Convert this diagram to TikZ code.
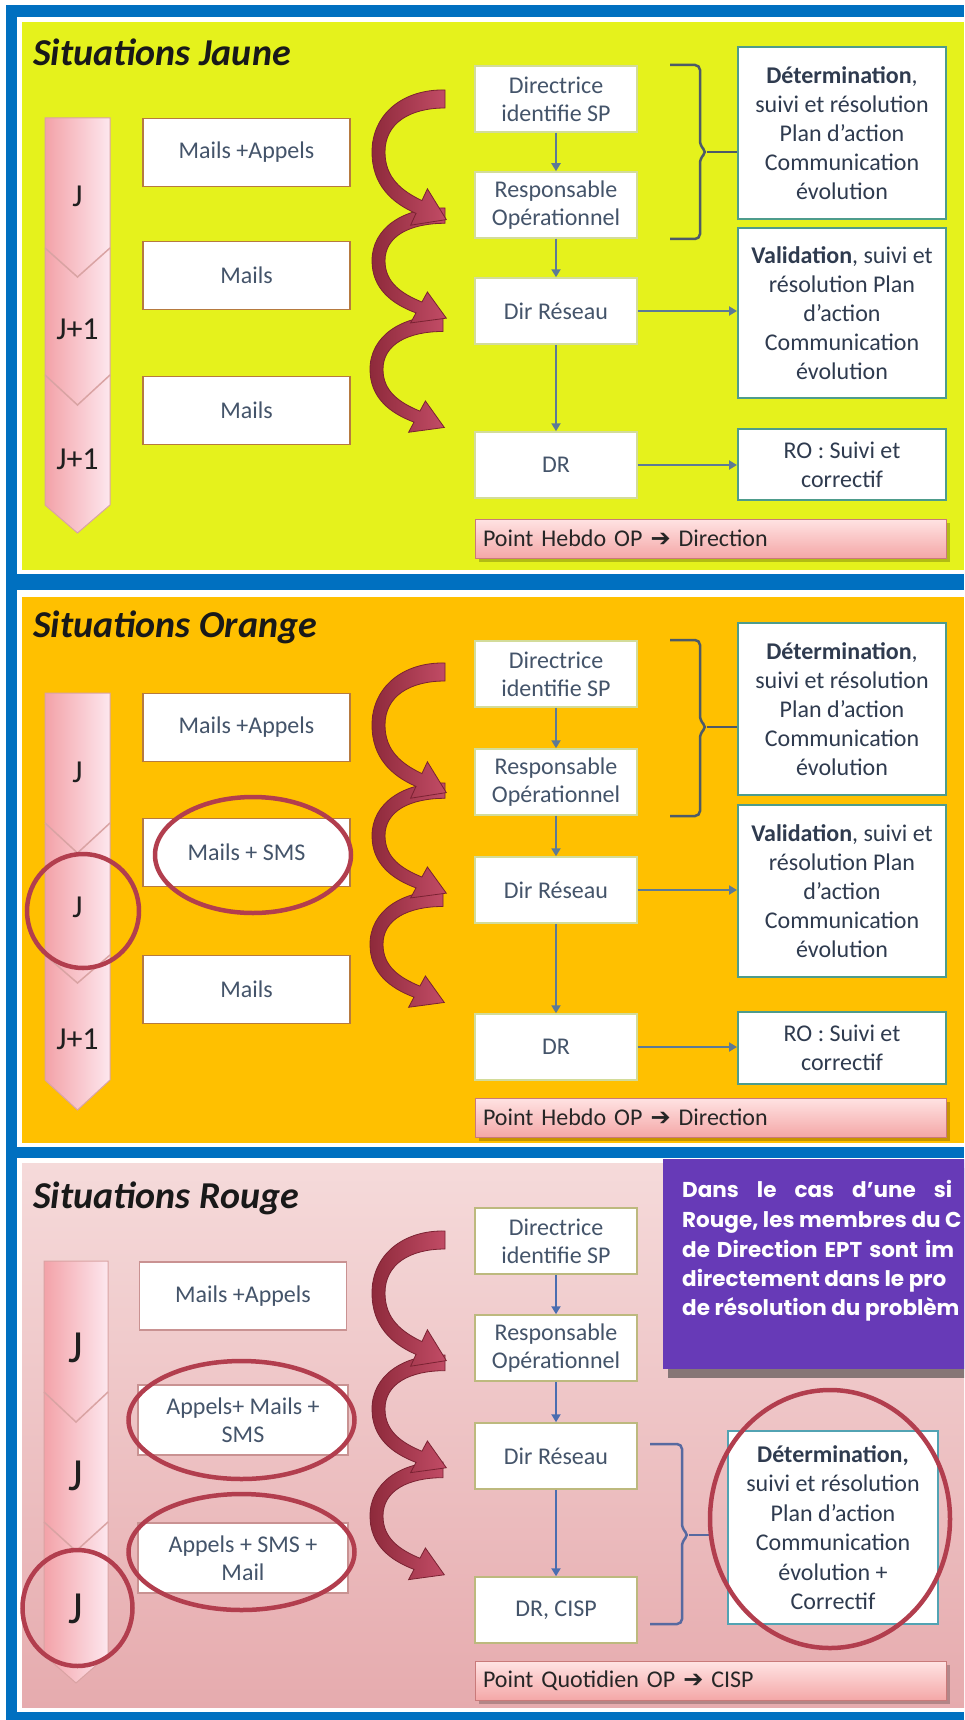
\documentclass[tikz,border=0pt]{standalone}
\usepackage{fontspec}
\setmainfont{Carlito}
\newfontfamily\dvs{DejaVu Sans}
\newfontfamily\gothic{Poppins}
\usetikzlibrary{arrows.meta,shapes.geometric}
\definecolor{frameblue}{HTML}{0070C0}
\definecolor{pyellow}{HTML}{E5F21C}
\definecolor{porange}{HTML}{FFC000}
\definecolor{pinkA}{HTML}{F5DADA}
\definecolor{pinkB}{HTML}{E6ABAE}
\definecolor{chevA}{HTML}{F3A2A8}
\definecolor{chevB}{HTML}{FDE7EE}
\definecolor{chevD}{HTML}{D9A3A3}
\definecolor{lboxc}{HTML}{B67A40}
\definecolor{lboxr}{HTML}{C99292}
\definecolor{cboxc}{HTML}{D3DC9A}
\definecolor{cboxr}{HTML}{BDB97E}
\definecolor{rboxc}{HTML}{4E9C8C}
\definecolor{rboxr}{HTML}{52A3B3}
\definecolor{slate}{HTML}{44546A}
\definecolor{darkslate}{HTML}{2F3B4F}
\definecolor{connc}{HTML}{5C7A96}
\definecolor{connr}{HTML}{4A6DB0}
\definecolor{brkc}{HTML}{4D5A68}
\definecolor{brkr}{HTML}{5769A0}
\definecolor{barA}{HTML}{FFE3E3}
\definecolor{barB}{HTML}{F4A7A7}
\definecolor{barD}{HTML}{C97A7A}
\definecolor{arrA}{HTML}{8E2A3B}
\definecolor{arrB}{HTML}{C24C66}
\definecolor{arrD}{HTML}{7A2232}
\definecolor{ringc}{HTML}{B23E4E}
\definecolor{purp}{HTML}{673AB7}
\tikzset{
  title/.style={anchor=west, inner sep=0pt, font=\fontsize{38}{42}\selectfont\bfseries\itshape, text=black!90},
  chev/.style={left color=chevA, right color=chevB, draw=chevD, line width=1pt},
  vline/.style={draw=chevD, line width=1.5pt},
  jlab/.style={inner sep=0pt, font=\fontsize{32}{36}\selectfont, text=black!88},
  jbig/.style={inner sep=0pt, font=\fontsize{46}{50}\selectfont, text=black!88},
  lbox/.style={draw=lboxc, line width=1.8pt, fill=white, minimum width=207pt, minimum height=68pt, inner sep=0pt, align=center, font=\fontsize{24}{28}\selectfont, text=slate},
  cbox/.style={draw=cboxc, line width=1.5pt, fill=white, minimum width=162pt, minimum height=66pt, inner sep=0pt, align=center, font=\fontsize{24}{28}\selectfont, text=slate},
  rbox/.style={draw=rboxc, line width=2pt, fill=white, minimum width=208pt, inner sep=0pt, align=center, font=\fontsize{24}{29}\selectfont, text=darkslate},
  conn/.style={draw=connc, line width=2.4pt, -{Triangle[length=8pt,width=9pt]}},
  brk/.style={draw=brkc, line width=2.5pt, rounded corners=5pt},
  bar/.style={draw=barD, line width=1pt, top color=barA, bottom color=barB, text width=455pt, align=left, inner xsep=8pt, inner ysep=0pt, minimum height=39pt, font=\fontsize{24}{28}\selectfont, text=black!85},
  barshadow/.style={fill=black, opacity=0.22},
  ring/.style={ellipse, draw=ringc, line width=4.5pt, inner sep=0pt},
  ptxt/.style={anchor=base west, inner sep=0pt, text=white, font=\gothic\bfseries\fontsize{21.5}{28}\selectfont},
  curvy/.pic={
    \shade[left color=arrA, right color=arrB, draw=arrD, line width=0.8pt]
      (0,0) .. controls (-42,-1) and (-73,24) .. (-73,62)
      .. controls (-73,95) and (-53,113) .. (-29,123.4)
      -- (-34.4,135.2) -- (1.3,129.6) -- (-17.6,98.8) -- (-23.1,110.6)
      .. controls (-43,101) and (-60,88) .. (-60,62)
      .. controls (-60,33) and (-35,18) .. (0,18) -- cycle;
  }
}
\begin{document}
\begin{tikzpicture}[x=1pt,y=-1pt]
\useasboundingbox (0,0) rectangle (964,1720);
\begin{scope}
\clip (0,0) rectangle (964,1720);
\fill[white] (0,0) rectangle (964,1720);
% blue frame
\fill[frameblue] (6,5) rectangle (964,17);
\fill[frameblue] (6,5) rectangle (17,1720);
\fill[frameblue] (6,574) rectangle (964,590);
\fill[frameblue] (6,1147) rectangle (964,1158);
\fill[frameblue] (6,1712) rectangle (964,1720);
% panels
\fill[pyellow] (22,22) rectangle (964,570);
\fill[porange] (22,597) rectangle (964,1143);
\shade[top color=pinkA, bottom color=pinkB] (22,1163) rectangle (964,1707);

% ================= YELLOW =================
\node[title] (t1) at (33,52) {Situations Jaune};
\shade[chev] (45,118) -- (110,118) -- (110,505) -- (77.5,533) -- (45,505) -- cycle;
\draw[vline] (45,248) -- (77.5,277) -- (110,248);
\draw[vline] (45,375) -- (77.5,405) -- (110,375);
\node[jlab] (j1a) at (77.5,196) {J};
\node[jlab] (j1b) at (77.5,329) {J+1};
\node[jlab] (j1c) at (77.5,459) {J+1};
\node[lbox] (m1a) at (246.5,152.5) {Mails +Appels};
\node[lbox] (m1b) at (246.5,275.5) {Mails};
\node[lbox] (m1c) at (246.5,410.5) {Mails};
\pic[yscale=0.86] at (443,316) {curvy};
\pic[yscale=0.85] at (445,208) {curvy};
\pic at (445,90) {curvy};
\node[cbox] (d1) at (556,99) {Directrice\\identifie SP};
\node[cbox] (r1) at (556,205) {Responsable\\Opérationnel};
\node[cbox] (n1) at (556,311) {Dir Réseau};
\node[cbox] (dr1) at (556,465) {DR};
\draw[conn] (d1) -- (r1);
\draw[conn] (r1) -- (n1);
\draw[conn] (n1) -- (dr1);
\node[rbox, minimum height=172pt] (b1a) at (842,133) {\textbf{Détermination},\\suivi et résolution\\Plan d’action\\Communication\\évolution};
\node[rbox, minimum height=170pt] (b1b) at (842,313) {\textbf{Validation}, suivi et\\résolution Plan\\d’action\\Communication\\évolution};
\node[rbox, minimum height=71pt] (b1c) at (842,464.5) {RO : Suivi et\\correctif};
\draw[conn] (n1) -- (n1 -| b1b.west);
\draw[conn] (dr1) -- (dr1 -| b1c.west);
\draw[brk] (670,65) -- (700,65) -- (700,146) -- (707,152) -- (700,158) -- (700,239) -- (670,239);
\coordinate (k1) at (707,152);
\draw[brk] (k1) -- (k1 -| b1a.west);
\fill[barshadow] (479,523) rectangle (950,562);
\node[bar] (p1) at (710.5,538.5) {Point Hebdo OP {\dvs ➔} Direction};

% ================= ORANGE =================
\begin{scope}[shift={(0,575)}]
\node[title] (t2) at (33,52) {Situations Orange};
\shade[chev] (45,118) -- (110,118) -- (110,505) -- (77.5,535) -- (45,505) -- cycle;
\draw[vline] (45,248) -- (77.5,278) -- (110,248);
\draw[vline] (45,380) -- (77.5,408) -- (110,380);
\node[jlab] (j2a) at (77.5,197) {J};
\node[jlab] (j2b) at (77.5,332) {J};
\node[jlab] (j2c) at (77.5,464) {J+1};
\node[lbox] (m2a) at (246.5,152.5) {Mails +Appels};
\node[lbox] (m2b) at (246.5,277.5) {Mails + SMS};
\node[lbox] (m2c) at (246.5,414.5) {Mails};
\node[ring, minimum width=112pt, minimum height=114pt] (c2) at (83,336) {};
\node[ring, minimum width=196pt, minimum height=116pt] (e2) at (253,280) {};
\pic[yscale=0.86] at (443,316) {curvy};
\pic[yscale=0.85] at (445,208) {curvy};
\pic at (445,88) {curvy};
\node[cbox] (d2) at (556,99) {Directrice\\identifie SP};
\node[cbox] (r2) at (556,207) {Responsable\\Opérationnel};
\node[cbox] (n2) at (556,315) {Dir Réseau};
\node[cbox] (dr2) at (556,472) {DR};
\draw[conn] (d2) -- (r2);
\draw[conn] (r2) -- (n2);
\draw[conn] (n2) -- (dr2);
\node[rbox, minimum height=172pt] (b2a) at (842,134) {\textbf{Détermination},\\suivi et résolution\\Plan d’action\\Communication\\évolution};
\node[rbox, minimum height=172pt] (b2b) at (842,316) {\textbf{Validation}, suivi et\\résolution Plan\\d’action\\Communication\\évolution};
\node[rbox, minimum height=72pt] (b2c) at (842,473) {RO : Suivi et\\correctif};
\draw[conn] (n2) -- (n2 -| b2b.west);
\draw[conn] (dr2) -- (dr2 -| b2c.west);
\draw[brk] (670,65) -- (700,65) -- (700,146) -- (707,152) -- (700,158) -- (700,241) -- (670,241);
\coordinate (k2) at (707,152);
\draw[brk] (k2) -- (k2 -| b2a.west);
\fill[barshadow] (479,527) rectangle (950,566);
\node[bar] (p2) at (710.5,542.5) {Point Hebdo OP {\dvs ➔} Direction};
\end{scope}

% ================= RED =================
\begin{scope}[shift={(0,1143)}]
\node[title] (t3) at (33,55) {Situations Rouge};
\shade[chev] (44,118) -- (108,118) -- (108,512) -- (76,540) -- (44,512) -- cycle;
\draw[vline] (44,249) -- (76,279) -- (108,249);
\draw[vline] (44,379) -- (76,408) -- (108,379);
\node[jbig] (j3a) at (76,205) {J};
\node[jbig] (j3b) at (76,333) {J};
\node[jbig] (j3c) at (76,466) {J};
\node[lbox, draw=lboxr] (m3a) at (243,153) {Mails +Appels};
\node[lbox, draw=lboxr, minimum width=210pt, minimum height=70pt] (m3b) at (243,277) {Appels+ Mails +\\SMS};
\node[lbox, draw=lboxr, minimum width=210pt, minimum height=70pt] (m3c) at (243,415) {Appels + SMS +\\Mail};
\node[ring, minimum width=226pt, minimum height=118pt] (e3a) at (241.5,277) {};
\node[ring, minimum width=226pt, minimum height=116pt] (e3b) at (241.5,409) {};
\node[ring, minimum width=110pt, minimum height=116pt] (c3) at (77.5,465) {};
\pic[yscale=0.87] at (443,319) {curvy};
\pic[yscale=0.87] at (445,212) {curvy};
\pic at (445,88) {curvy};
\node[cbox, draw=cboxr] (d3) at (556,98) {Directrice\\identifie SP};
\node[cbox, draw=cboxr] (r3) at (556,205) {Responsable\\Opérationnel};
\node[cbox, draw=cboxr] (n3) at (556,313) {Dir Réseau};
\node[cbox, draw=cboxr] (dr3) at (556,467) {DR, CISP};
\draw[conn, draw=connr] (d3) -- (r3);
\draw[conn, draw=connr] (r3) -- (n3);
\draw[conn, draw=connr] (n3) -- (dr3);
\node[rbox, draw=rboxr, minimum width=210pt, minimum height=193pt, font=\fontsize{24}{29.5}\selectfont] (b3) at (833,384.5) {\textbf{Détermination,}\\suivi et résolution\\Plan d’action\\Communication\\évolution +\\Correctif};
\draw[brk, draw=brkr] (650,301) -- (682,301) -- (682,386) -- (689,392) -- (682,398) -- (682,481) -- (650,481);
\coordinate (k3) at (689,392);
\coordinate (k3e) at (712,392);
\draw[brk, draw=brkr] (k3) -- (k3e);
\node[ring, minimum width=240pt, minimum height=258pt] (c3b) at (830,376) {};
\fill[barshadow] (479,522) rectangle (950,561);
\node[bar] (p3) at (710.5,538) {Point Quotidien OP {\dvs ➔} CISP};
\end{scope}

% purple note
\fill[black!75, opacity=0.6] (668,1168) rectangle (980,1378);
\node[fill=purp, minimum width=320pt, minimum height=210pt, anchor=north west, inner sep=0pt] (note) at (663,1159) {};
\node[ptxt] (q1) at (682,1197) {\makebox[270pt][s]{Dans le cas d’une si}};
\node[ptxt] (q2) at (682,1227) {Rouge, les membres du C};
\node[ptxt] (q3) at (682,1257) {\makebox[272pt][s]{de Direction EPT sont im}};
\node[ptxt] (q4) at (682,1286) {directement dans le pro};
\node[ptxt] (q5) at (682,1315) {de résolution du problèm};
\end{scope}
\end{tikzpicture}
\end{document}
